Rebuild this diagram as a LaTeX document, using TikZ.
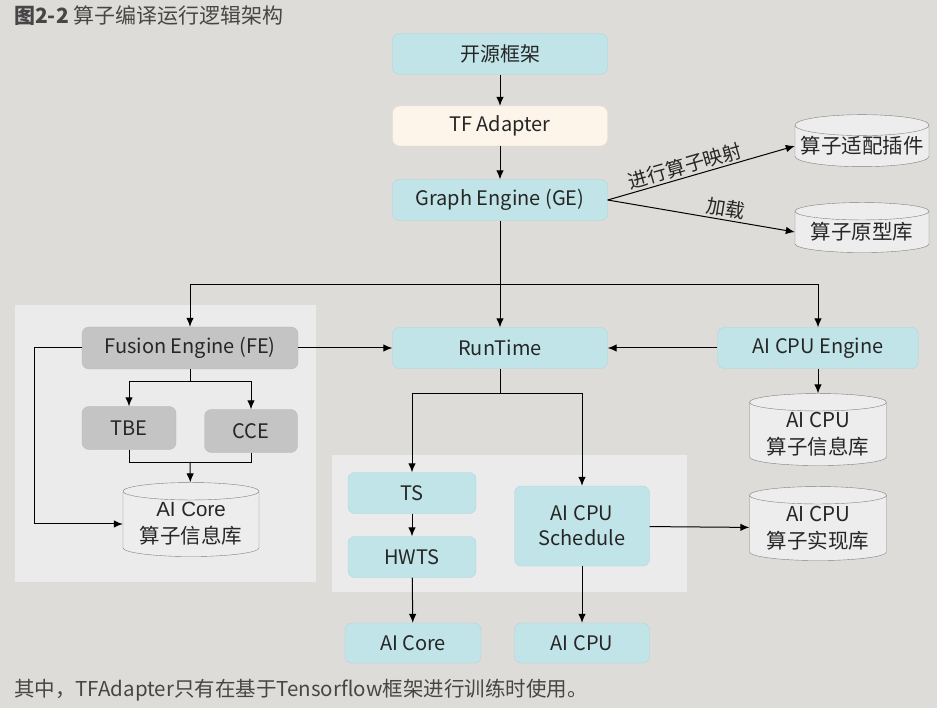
\documentclass[tikz,border=0pt]{standalone}
\usepackage{fontspec}
\setmainfont{Noto Sans CJK SC}
\newfontfamily\arialfont{Liberation Sans}
\usepackage{xcolor}
\usetikzlibrary{positioning, shapes.geometric, arrows.meta}

\definecolor{bgcol}{RGB}{221,220,217}
\definecolor{panelcol}{RGB}{235,235,235}
\definecolor{cyanfill}{RGB}{193,228,232}
\definecolor{cyanline}{RGB}{176,212,218}
\definecolor{creamfill}{RGB}{253,245,234}
\definecolor{grayfill}{RGB}{196,196,196}
\definecolor{grayline}{RGB}{186,186,186}
\definecolor{dbfill}{RGB}{237,237,237}
\definecolor{txtcol}{RGB}{38,38,38}
\definecolor{captcol}{RGB}{70,70,70}

\tikzset{
    blk/.style={rounded corners=7pt, inner sep=0pt, text=txtcol, font=\fontsize{20}{25}\selectfont},
    cyanblk/.style={blk, fill=cyanfill, draw=cyanline},
    grayblk/.style={blk, fill=grayfill, draw=grayline},
    db/.style={cylinder, shape border rotate=90, aspect=0.17, draw=black!50, fill=dbfill, inner sep=0pt, text=txtcol, align=center, font=\fontsize{20.5}{27}\selectfont},
    arr/.style={-{Latex[length=9pt,width=7.5pt]}, line width=1pt},
    ln/.style={line width=1pt},
    lbl/.style={sloped, above, inner sep=2pt, text=txtcol, font=\fontsize{19.5}{22}\selectfont}
}

\begin{document}
\begin{tikzpicture}[x=1pt, y=-1pt]
    \fill[bgcol] (0,0) rectangle (937,708);
    \useasboundingbox (0,0) rectangle (937,708);

    % panels
    \fill[panelcol] (15,305) rectangle (316,582);
    \fill[panelcol] (332,455) rectangle (687,592);

    % title and note
    \node[anchor=west, inner sep=0pt, text=captcol, font=\fontsize{21}{24}\selectfont] (title) at (14,16) {\textbf{图2-2} 算子编译运行逻辑架构};
    \node[anchor=west, inner sep=0pt, text=captcol, font=\fontsize{20.5}{24}\selectfont] (note) at (14,690) {其中，TFAdapter只有在基于Tensorflow框架进行训练时使用。};

    % upper chain
    \node[cyanblk, minimum width=215pt, minimum height=41pt] (src) at (500,54) {开源框架};
    \node[blk, fill=creamfill, draw=creamfill!90!black, minimum width=215pt, minimum height=40pt] (tfa) at (500,126) {TF Adapter};
    \node[cyanblk, minimum width=215pt, minimum height=41pt] (ge) at (500,200) {Graph Engine (GE)};
    \node[db, minimum width=134pt, minimum height=52pt] (plugin) at (862,146) {算子适配插件};
    \node[db, minimum width=134pt, minimum height=50pt] (proto) at (862,232) {算子原型库};

    % middle row
    \node[grayblk, minimum width=216pt, minimum height=42pt] (fe) at (190,348) {Fusion Engine (FE)};
    \node[cyanblk, minimum width=215pt, minimum height=41pt] (rt) at (500,348) {RunTime};
    \node[cyanblk, minimum width=201pt, minimum height=41pt] (aie) at (818,348) {AI CPU Engine};
    \node[grayblk, minimum width=94pt, minimum height=43pt] (tbe) at (129,428) {TBE};
    \node[grayblk, minimum width=93pt, minimum height=43pt] (cce) at (251,431) {CCE};
    \node[db, minimum width=136pt, minimum height=74pt] (coreinfo) at (191,524) {{\arialfont AI Core}\\算子信息库};
    \node[db, minimum width=137pt, minimum height=72pt] (cpuinfo) at (818,434) {AI CPU\\算子信息库};

    % lower part
    \node[cyanblk, minimum width=128pt, minimum height=41pt] (ts) at (412,493) {TS};
    \node[cyanblk, minimum width=128pt, minimum height=41pt] (hwts) at (412,557) {HWTS};
    \node[cyanblk, minimum width=135pt, minimum height=80pt, align=center] (sched) at (582,526) {AI CPU\\Schedule};
    \node[db, minimum width=137pt, minimum height=74pt] (cpuimpl) at (818,528) {AI CPU\\算子实现库};
    \node[cyanblk, minimum width=136pt, minimum height=40pt] (aicore) at (413,643) {AI Core};
    \node[cyanblk, minimum width=135pt, minimum height=40pt] (aicpu) at (582,643) {AI CPU};

    \coordinate (br1) at (500,285);
    \coordinate (br2) at (190,382);
    \coordinate (br3) at (190,462);
    \coordinate (br4) at (500,394);

    \draw[arr] (src) -- (tfa);
    \draw[arr] (tfa) -- (ge);
    \draw[arr] (ge.east) -- node[lbl, pos=0.43] {进行算子映射} (plugin.west);
    \draw[arr] (ge.east) -- node[lbl, pos=0.62] {加载} (proto.west);
    \draw[arr] (ge) -- (rt);
    \draw[arr] (br1) -| (fe);
    \draw[arr] (br1) -| (aie);
    \draw[arr] (fe) -- (rt);
    \draw[arr] (aie) -- (rt);
    \draw[arr] (aie) -- (cpuinfo);
    \draw[ln] (fe) -- (br2);
    \draw[arr] (br2) -| (tbe);
    \draw[arr] (br2) -| (cce);
    \draw[ln] (tbe) |- (br3);
    \draw[ln] (cce) |- (br3);
    \draw[arr] (br3) -- (coreinfo);
    \draw[arr] (fe.west) -- ++(-47,0) |- (coreinfo.west);
    \draw[ln] (rt) -- (br4);
    \draw[arr] (br4) -| (ts);
    \draw[arr] (br4) -| (sched);
    \draw[arr] (ts) -- (hwts);
    \draw[arr] (hwts) -- (aicore);
    \draw[arr] (sched) -- (aicpu);
    \draw[arr] (sched) -- (cpuimpl);
\end{tikzpicture}
\end{document}
